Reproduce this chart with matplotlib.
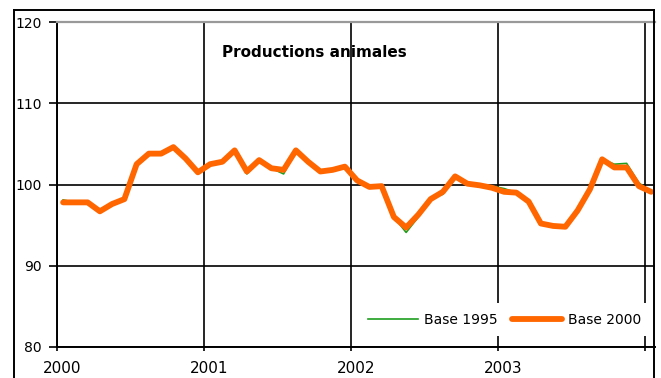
import matplotlib
matplotlib.use("Agg")
import matplotlib.pyplot as plt
import matplotlib.transforms as mtransforms
from matplotlib.lines import Line2D
import numpy as np

# ---- data (monthly, Jan 2000 .. Jan 2004) ----
month_index = list(range(49))
base_2000 = [97.8, 97.8, 97.8, 96.7, 97.6, 98.2, 102.5, 103.8, 103.8, 104.6, 103.2, 101.5,
             102.5, 102.8, 104.2, 101.6, 103.0, 102.0, 101.8, 104.2, 102.8, 101.6, 101.8, 102.2,
             100.5, 99.7, 99.8, 96.0, 94.7, 96.3, 98.2, 99.1, 101.0, 100.1, 99.9, 99.6,
             99.1, 99.0, 97.9, 95.2, 94.9, 94.8, 96.8, 99.4, 103.1, 102.1, 102.1, 99.8, 99.1]
base_1995 = [98.1, 97.8, 97.8, 96.7, 97.6, 98.2, 102.5, 103.8, 103.8, 104.6, 103.2, 101.5,
             102.5, 102.8, 104.2, 101.3, 103.0, 102.0, 101.3, 104.2, 102.8, 101.6, 101.8, 102.2,
             100.5, 99.7, 99.8, 96.0, 94.1, 96.0, 98.2, 98.8, 101.0, 100.1, 99.9, 99.8,
             99.5, 99.0, 97.9, 95.2, 94.9, 94.8, 96.8, 99.4, 103.1, 102.5, 102.6, 100.2, 99.1]
year_ticks = [2000, 2001, 2002, 2003, 2004]
year_labels = ["2000", "2001", "2002", "2003", ""]
y_ticks = [80, 90, 100, 110, 120]
title = "Productions animales"
series_names = ["Base 1995", "Base 2000"]

W, H = 661, 378
fig = plt.figure(figsize=(W / 100, H / 100), dpi=100)
plt.rcParams['font.family'] = ['DejaVu Sans']

x = 2000 + (np.array(month_index) + 0.5) / 12.0

ax = fig.add_axes([57 / W, 1 - 347 / H, (655 - 57) / W, (347 - 22) / H])
ax.set_xlim(2000, 2000 + (655 - 57) / 147.0)
ax.set_ylim(80, 120)

ax.plot(x, base_1995, color="#1e9e1e", lw=1.2, label=series_names[0], zorder=3)
ax.plot(x, base_2000, color="#ff6600", lw=4.2, label=series_names[1], zorder=4,
        solid_capstyle="round", solid_joinstyle="round")

ax.set_xticks(year_ticks)
ax.set_xticklabels(year_labels, fontsize=11)
ax.set_yticks(y_ticks)
ax.set_yticklabels([str(v) for v in y_ticks], fontsize=10)
ax.tick_params(axis="y", length=6, width=1.2, pad=5, direction="out")
ax.tick_params(axis="x", length=3, width=1.2, pad=7, direction="out")
offset = mtransforms.ScaledTranslation(5 / 100, 0, fig.dpi_scale_trans)
for lab in ax.get_xticklabels():
    lab.set_transform(lab.get_transform() + offset)
ax.set_axisbelow(True)
ax.grid(True, color="black", lw=1.2)

for s in ["left", "bottom"]:
    ax.spines[s].set_color("black")
    ax.spines[s].set_linewidth(1.4)
ax.spines["top"].set_color("#999999")
ax.spines["top"].set_linewidth(1.6)
ax.spines["right"].set_visible(False)

ax.text(0.43, 0.905, title, transform=ax.transAxes, ha="center", va="center",
        fontsize=11, fontweight="bold", zorder=0.1)

leg = ax.legend(loc="lower right", ncol=2, frameon=True, fontsize=10,
                handlelength=3.6, handletextpad=0.45, columnspacing=1.0,
                borderaxespad=0.3, borderpad=0.7, bbox_to_anchor=(1.0, 0.02))
leg.get_frame().set_facecolor("white")
leg.get_frame().set_edgecolor("none")
leg.get_frame().set_alpha(1)

# outer chart frame
lw = 1.4
fig.add_artist(Line2D([14 / W, 14 / W], [0, 1 - 10 / H], color="black", lw=lw))
fig.add_artist(Line2D([14 / W, 654 / W], [1 - 10 / H, 1 - 10 / H], color="black", lw=lw))
fig.add_artist(Line2D([654 / W, 654 / W], [0, 1 - 10 / H], color="black", lw=lw))

fig.savefig("out.png", dpi=100)
